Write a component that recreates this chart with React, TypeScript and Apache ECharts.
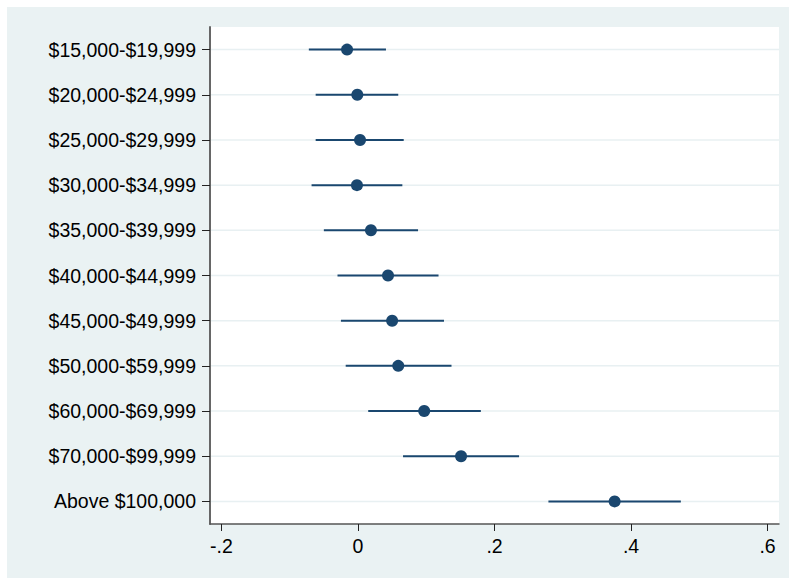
import React, { useEffect, useRef } from "react";
import * as echarts from "echarts";

const categories = [
  "$15,000-$19,999",
  "$20,000-$24,999",
  "$25,000-$29,999",
  "$30,000-$34,999",
  "$35,000-$39,999",
  "$40,000-$44,999",
  "$45,000-$49,999",
  "$50,000-$59,999",
  "$60,000-$69,999",
  "$70,000-$99,999",
  "Above $100,000",
];
const estimates = [-0.016, -0.001, 0.003, -0.0015, 0.019, 0.044, 0.05, 0.059, 0.097, 0.151, 0.376];
const lowerCI = [-0.072, -0.062, -0.062, -0.068, -0.05, -0.03, -0.025, -0.018, 0.015, 0.066, 0.279];
const upperCI = [0.041, 0.059, 0.067, 0.065, 0.088, 0.118, 0.126, 0.137, 0.18, 0.236, 0.473];
const xTickValues = [-0.2, 0, 0.2, 0.4, 0.6];
const xTickLabels = ["-.2", "0", ".2", ".4", ".6"];

const FONT = '"Liberation Sans", Arial, Helvetica, sans-serif';
const NAVY = "#1a476f";

export default function App() {
  const ref = useRef<HTMLDivElement>(null);
  useEffect(() => {
    if (!ref.current) return;
    const chart = echarts.init(ref.current, undefined, { renderer: "svg" });
    const data = categories.map((_, i) => [estimates[i], i, lowerCI[i], upperCI[i]]);
    chart.setOption({
      animation: false,
      backgroundColor: "#EAF2F3",
      grid: {
        left: 203,
        right: 10,
        top: 20,
        bottom: 54,
        show: true,
        backgroundColor: "#ffffff",
        borderWidth: 0,
      },
      xAxis: {
        type: "value",
        min: -0.2168,
        max: 0.6168,
        splitLine: { show: false },
        axisLine: { show: true, onZero: false, lineStyle: { color: "#555555", width: 1.5 } },
        axisTick: {
          show: true,
          length: 7,
          customValues: xTickValues,
          lineStyle: { color: "#222222", width: 1 },
        },
        axisLabel: {
          customValues: xTickValues,
          formatter: (v: number) => {
            const idx = xTickValues.findIndex((t) => Math.abs(t - v) < 1e-9);
            return idx >= 0 ? xTickLabels[idx] : "";
          },
          fontSize: 19.5,
          fontFamily: FONT,
          color: "#000000",
          margin: 12,
        },
      },
      yAxis: {
        type: "category",
        data: categories,
        inverse: true,
        boundaryGap: true,
        splitLine: { show: false },
        axisLine: { show: true, onZero: false, lineStyle: { color: "#666666", width: 2 } },
        axisTick: {
          show: true,
          alignWithLabel: true,
          length: 8,
          lineStyle: { color: "#222222", width: 1 },
        },
        axisLabel: {
          fontSize: 19.5,
          fontFamily: FONT,
          color: "#000000",
          margin: 14,
        },
      },
      series: [
        {
          type: "custom",
          data,
          encode: { x: [0, 2, 3], y: 1 },
          z: 1,
          renderItem: (params: any, api: any) => {
            const cs = params.coordSys;
            const cat = api.value(1);
            const pEst = api.coord([api.value(0), cat]);
            const pLo = api.coord([api.value(2), cat]);
            const pHi = api.coord([api.value(3), cat]);
            const y = pEst[1];
            return {
              type: "group",
              children: [
                {
                  type: "line",
                  shape: { x1: cs.x + 1, y1: y, x2: cs.x + cs.width, y2: y },
                  style: { stroke: "#E8F0F2", lineWidth: 1.5 },
                  silent: true,
                },
                {
                  type: "line",
                  shape: { x1: pLo[0], y1: y, x2: pHi[0], y2: y },
                  style: { stroke: NAVY, lineWidth: 2 },
                },
                {
                  type: "circle",
                  shape: { cx: pEst[0], cy: y, r: 6 },
                  style: { fill: NAVY },
                },
              ],
            };
          },
        },
      ],
    });
    return () => chart.dispose();
  }, []);
  return (
    <div
      ref={ref}
      style={{ position: "absolute", left: 7, top: 7, width: 782, height: 571 }}
    />
  );
}
